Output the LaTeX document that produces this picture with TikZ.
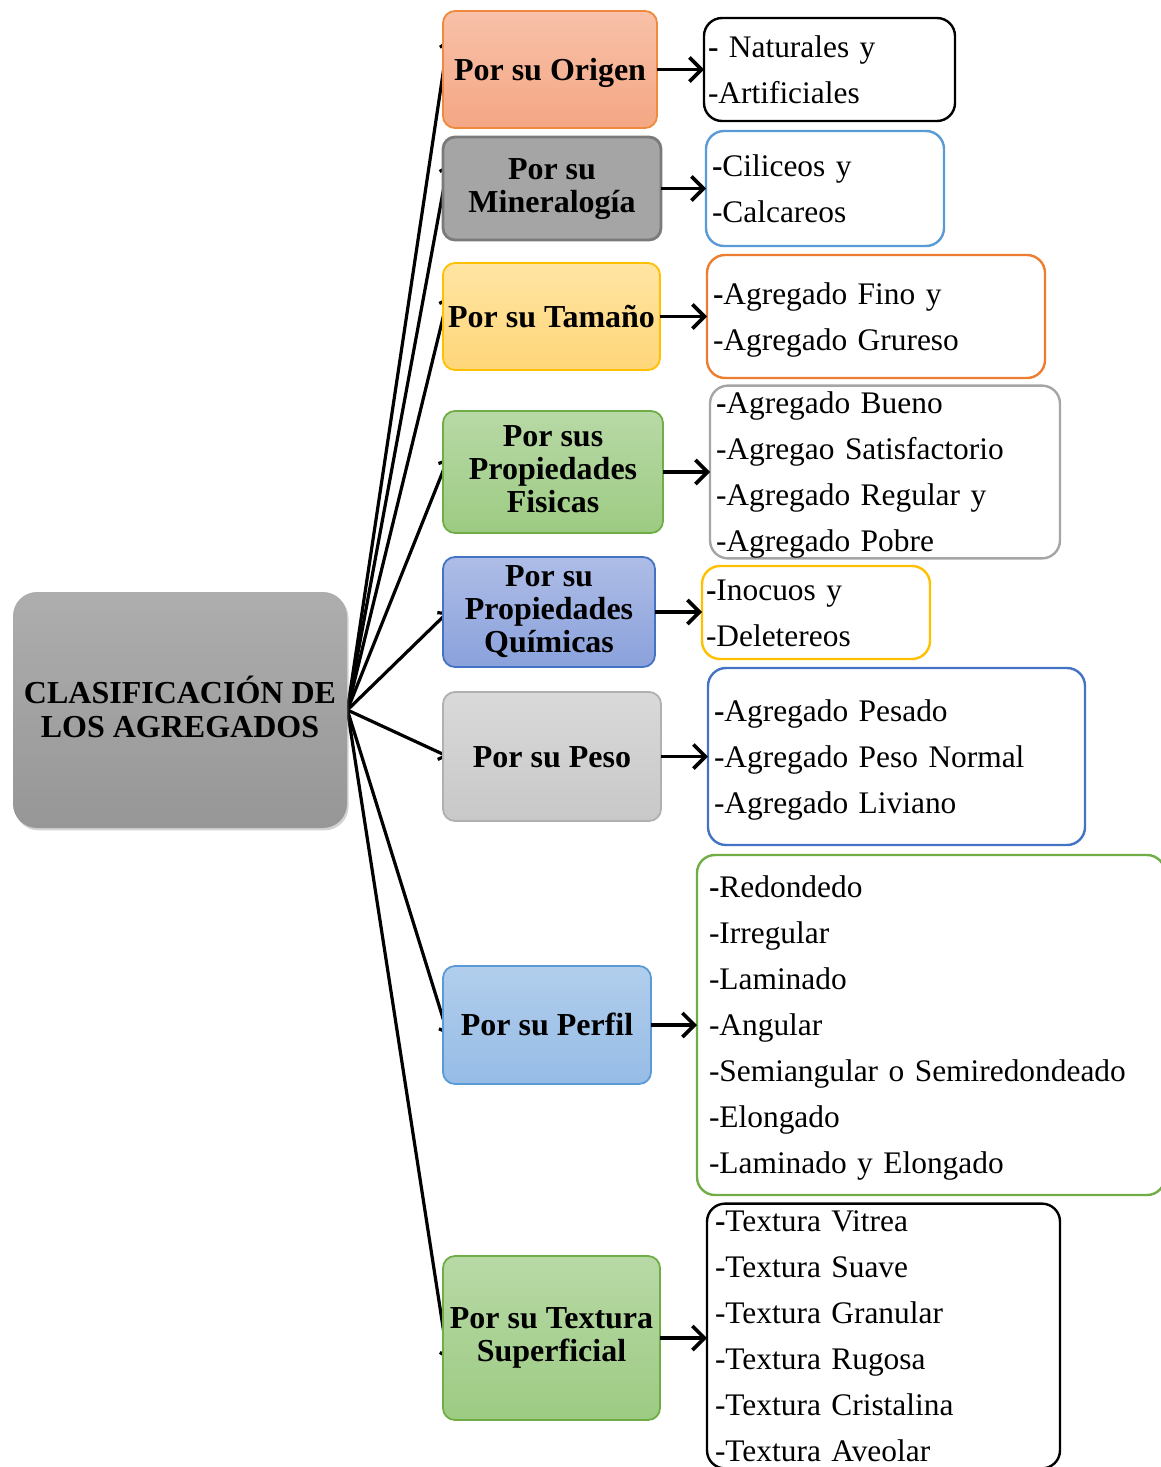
\documentclass[tikz,border=0pt]{standalone}
\usepackage{fontspec}
\setmainfont{Liberation Serif}
\usetikzlibrary{positioning,arrows.meta,backgrounds,shadows,calc}
\definecolor{origtop}{HTML}{F8C1A9}
\definecolor{origbot}{HTML}{F4A784}
\definecolor{origline}{HTML}{F0883E}
\definecolor{minfill}{HTML}{A5A5A5}
\definecolor{minline}{HTML}{7A7A7A}
\definecolor{tamtop}{HTML}{FFE5A3}
\definecolor{tambot}{HTML}{FFD679}
\definecolor{tamline}{HTML}{FFC000}
\definecolor{greentop}{HTML}{B8D9A6}
\definecolor{greenbot}{HTML}{9DCB83}
\definecolor{greenline}{HTML}{70AD47}
\definecolor{bluetop}{HTML}{AEBDE7}
\definecolor{bluebot}{HTML}{8AA1DB}
\definecolor{blueline}{HTML}{4472C4}
\definecolor{graytop}{HTML}{D9D9D9}
\definecolor{graybot}{HTML}{C8C8C8}
\definecolor{grayline}{HTML}{B0B0B0}
\definecolor{skytop}{HTML}{B1CEEC}
\definecolor{skybot}{HTML}{96BCE6}
\definecolor{skyline}{HTML}{5B9BD5}
\definecolor{listgray}{HTML}{A5A5A5}
\definecolor{listorange}{HTML}{ED7D31}
\newcommand{\wstrut}{\rule[-0.216em]{0pt}{1.107em}}

\begin{document}
\begin{tikzpicture}[x=0.5pt,y=-0.5pt,
  catbox/.style={draw,rounded corners=6pt,line width=0.9pt,align=center,
    font=\fontsize{16}{16.5}\selectfont\bfseries,inner sep=0pt,outer sep=0pt,
    execute at begin node=\wstrut,execute at end node=\wstrut},
  twolines/.style={text height=23.9pt,text depth=0pt},
  threelines/.style={text height=40.4pt,text depth=0pt},
  listbox/.style={draw,rounded corners=9pt,line width=1.2pt,align=left,
    font=\fontsize{15.7}{23}\selectfont,inner xsep=3pt,inner ysep=0pt,outer sep=0pt,
    execute at begin node=\wstrut,execute at end node=\wstrut},
  feed/.style={-{Straight Barb[length=6pt,width=12pt]},line width=1.8pt},
  spoke/.style={-{Straight Barb[length=3pt,width=7pt]},line width=1.6pt}]
\useasboundingbox (0,0) rectangle (1161,1467);

% root
\node[rounded corners=12pt,top color=gray!64,bottom color=gray!82,
  drop shadow={shadow xshift=0.8pt,shadow yshift=-1.2pt,opacity=0.35},
  minimum width=167pt,minimum height=118pt,align=center,inner sep=0pt,
  font=\fontsize{16}{17}\selectfont\bfseries,
  execute at begin node=\wstrut,execute at end node=\wstrut] (root) at (180,710)
  {CLASIFICACIÓN DE\\LOS AGREGADOS};

% categories
\node[catbox,draw=origline,top color=origtop,bottom color=origbot,
  minimum width=107pt,minimum height=58.5pt] (orig) at (550,69.5) {Por su Origen};
\node[catbox,twolines,draw=minline,fill=minfill,line width=1.4pt,
  minimum width=109pt,minimum height=51.5pt] (miner) at (552,188.5) {Por su\\Mineralogía};
\node[catbox,draw=tamline,top color=tamtop,bottom color=tambot,
  minimum width=108.5pt,minimum height=53.5pt] (tam) at (551.5,316.5) {Por su Tamaño};
\node[catbox,threelines,draw=greenline,top color=greentop,bottom color=greenbot,
  minimum width=110pt,minimum height=61pt] (fis) at (553,472) {Por sus\\Propiedades\\Fisicas};
\node[catbox,threelines,draw=blueline,top color=bluetop,bottom color=bluebot,
  minimum width=106pt,minimum height=55pt] (quim) at (549,612) {Por su\\Propiedades\\Químicas};
\node[catbox,draw=grayline,top color=graytop,bottom color=graybot,
  minimum width=109pt,minimum height=64.5pt] (peso) at (552,756.5) {Por su Peso};
\node[catbox,draw=skyline,top color=skytop,bottom color=skybot,
  minimum width=104pt,minimum height=59pt] (perf) at (547,1025) {Por su Perfil};
\node[catbox,twolines,draw=greenline,top color=greentop,bottom color=greenbot,
  minimum width=108.5pt,minimum height=82pt] (text) at (551.5,1338) {Por su Textura\\Superficial};

% lists
\node[listbox,draw=black,inner xsep=2pt,text width=121.5pt,minimum height=51.5pt] (lorig) at (829.5,69.5)
  {\textbf{-} Naturales y\\-Artificiales};
\node[listbox,draw=skyline,text width=113pt,minimum height=57.5pt] (lminer) at (825,188.5)
  {\textbf{-}Ciliceos y\\-Calcareos};
\node[listbox,draw=listorange,text width=163pt,minimum height=61.5pt] (ltam) at (876,316.5)
  {\textbf{-}Agregado Fino y\\-Agregado Grureso};
\node[listbox,draw=listgray,text width=169pt,minimum height=84pt] (lfis) at (885,472)
  {\textbf{-}Agregado Bueno\\-Agregao Satisfactorio\\-Agregado Regular y\\-Agregado Pobre};
\node[listbox,draw=tamline,inner xsep=2pt,text width=110pt,minimum height=46.5pt] (lquim) at (816,612.5)
  {\textbf{-}Inocuos y\\-Deletereos};
\node[listbox,draw=blueline,text width=182.5pt,minimum height=88.5pt] (lpeso) at (896.5,756.5)
  {\textbf{-}Agregado Pesado\\-Agregado Peso Normal\\-Agregado Liviano};
\node[listbox,draw=greenline,inner xsep=6pt,text width=222pt,minimum height=170pt] (lperf) at (931,1025)
  {\textbf{-}Redondedo\\-Irregular\\-Laminado\\-Angular\\-Semiangular o Semiredondeado\\-Elongado\\-Laminado y Elongado};
\node[listbox,draw=black,inner xsep=4pt,text width=168.5pt,minimum height=131pt] (ltext) at (883.5,1336)
  {\textbf{-}Textura Vitrea\\-Textura Suave\\-Textura Granular\\-Textura Rugosa\\-Textura Cristalina\\-Textura Aveolar};

% spokes from the root
\begin{scope}[on background layer]
\draw[spoke] (root.east) -- ($(orig.north west)!0.25!(orig.south west)+(5,0)$);
\draw[spoke] (root.east) -- ($(miner.north west)!0.27!(miner.south west)+(5,0)$);
\draw[spoke] (root.east) -- ($(tam.north west)!0.32!(tam.south west)+(5,0)$);
\draw[spoke] (root.east) -- ($(fis.north west)!0.39!(fis.south west)+(5,0)$);
\draw[spoke] (root.east) -- ($(quim.west)+(5,0)$);
\draw[spoke] (root.east) -- ($(peso.west)+(5,0)$);
\draw[spoke] (root.east) -- ($(perf.north west)!0.58!(perf.south west)+(5,0)$);
\draw[spoke] (root.east) -- ($(text.north west)!0.63!(text.south west)+(5,0)$);
\end{scope}

% category to list
\draw[feed] (orig.east) -- (orig.east -| lorig.west);
\draw[feed] (miner.east) -- (miner.east -| lminer.west);
\draw[feed] (tam.east) -- (tam.east -| ltam.west);
\draw[feed] (fis.east) -- (fis.east -| lfis.west);
\draw[feed] (quim.east) -- (quim.east -| lquim.west);
\draw[feed] (peso.east) -- (peso.east -| lpeso.west);
\draw[feed] (perf.east) -- (perf.east -| lperf.west);
\draw[feed] (text.east) -- (text.east -| ltext.west);
\end{tikzpicture}
\end{document}
